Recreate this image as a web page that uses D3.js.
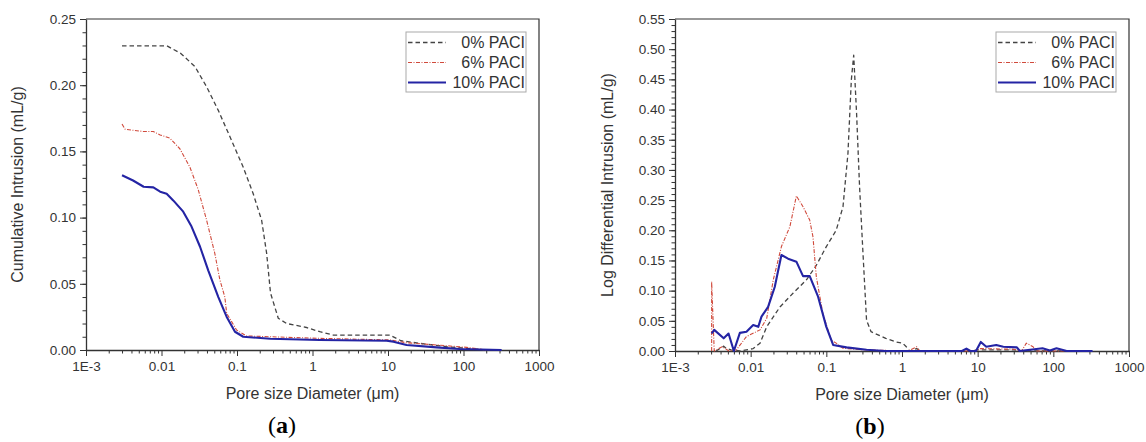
<!DOCTYPE html>
<html>
<head>
<meta charset="utf-8">
<script src="https://cdn.jsdelivr.net/npm/d3@7"></script>
<style>
  body { margin: 0; background: #fff; }
  svg { font-family: "Liberation Sans", Arial, sans-serif; }
  .axis text { fill: #333; font-size: 13.5px; }
  .axis path, .axis line { stroke: #333; }
</style>
</head>
<body>
<svg id="chart" width="1146" height="442"></svg>
<script>
// ---- data (pore diameter in um, intrusion in mL/g) ----
const seriesNames = ["0% PACI", "6% PACI", "10% PACI"];
const decadeLabels = ["1E-3", "0.01", "0.1", "1", "10", "100", "1000"];

// (a) cumulative intrusion
const cum0 = [[0.003,0.2297],[0.0118,0.2297],[0.018,0.224],[0.0278,0.214],[0.0396,0.1988],[0.0565,0.181],
  [0.0807,0.161],[0.121,0.138],[0.164,0.118],[0.212,0.098],[0.247,0.073],[0.278,0.043],[0.352,0.024],
  [0.455,0.020],[0.83,0.017],[1.25,0.0138],[1.88,0.0113],[10.6,0.0113],[14.9,0.0070],[26.6,0.005],
  [60,0.0025],[110,0.0013],[200,0.0]];
const cum6 = [[0.003,0.1707],[0.0033,0.1667],[0.0058,0.165],[0.0078,0.165],[0.0096,0.1624],[0.0129,0.160],
  [0.0175,0.152],[0.0238,0.138],[0.0307,0.121],[0.0396,0.098],[0.0508,0.073],[0.0593,0.053],[0.069,0.040],
  [0.073,0.0277],[0.0986,0.0151],[0.134,0.0106],[1.25,0.0088],[10.6,0.0076],[17.6,0.0055],[44,0.0038],
  [110,0.002],[200,0.0]];
const cum10 = [[0.003,0.132],[0.0042,0.128],[0.0058,0.1233],[0.0078,0.1228],[0.0096,0.1196],[0.0117,0.118],
  [0.0143,0.113],[0.0194,0.1045],[0.025,0.0932],[0.0324,0.078],[0.0417,0.060],[0.0566,0.040],
  [0.0728,0.0252],[0.094,0.0138],[0.121,0.010],[0.275,0.0085],[1.25,0.0076],[9.6,0.007],[11.8,0.0063],
  [17.6,0.0038],[44,0.002],[89,0.0008],[320,0.0]];

// (b) log differential intrusion
const diff0 = [[0.0035,0.0],[0.0044,0.008],[0.0048,0.004],[0.0055,0.002],[0.0072,0.0],[0.0108,0.004],
  [0.0133,0.013],[0.0163,0.04],[0.0244,0.073],[0.0365,0.096],[0.0547,0.118],[0.0737,0.142],[0.100,0.173],
  [0.135,0.200],[0.166,0.239],[0.193,0.327],[0.214,0.449],[0.230,0.49],[0.251,0.394],[0.275,0.272],
  [0.305,0.162],[0.34,0.051],[0.39,0.032],[0.61,0.021],[0.84,0.015],[1.02,0.013],[1.14,0.007],
  [1.25,0.0],[1.56,0.004],[1.8,0.0],[8,0.0],[10,0.002],[30,0.002],[40,0.0],[200,0.0]];
const diff6 = [[0.00305,0.0],[0.00305,0.115],[0.0033,0.0],[0.0042,0.007],[0.0052,0.0],[0.0065,0.002],
  [0.0088,0.024],[0.0133,0.035],[0.0163,0.054],[0.0199,0.118],[0.0255,0.173],[0.033,0.206],[0.0402,0.257],
  [0.0492,0.239],[0.0603,0.217],[0.0666,0.189],[0.0737,0.123],[0.090,0.062],[0.116,0.018],[0.135,0.013],
  [0.166,0.0045],[0.3,0.002],[1.2,0.0],[1.56,0.007],[1.7,0.0],[9,0.0],[11,0.004],[30,0.003],[38,0.0],
  [44,0.013],[54,0.007],[60,0.0],[200,0.0]];
const diff10 = [[0.00305,0.029],[0.0033,0.035],[0.0044,0.021],[0.0051,0.029],[0.006,0.0],[0.0072,0.030],
  [0.0088,0.032],[0.0108,0.043],[0.0126,0.040],[0.0139,0.057],[0.017,0.073],[0.0208,0.106],[0.0255,0.159],
  [0.0312,0.153],[0.0402,0.148],[0.0492,0.124],[0.0603,0.124],[0.0778,0.090],[0.1,0.040],[0.123,0.010],
  [0.185,0.006],[0.34,0.002],[0.6,0.0],[6.2,0.0],[7.1,0.004],[8,0.0],[9.5,0.0],[11,0.015],[13,0.007],
  [17.6,0.010],[21.8,0.007],[33,0.006],[36,0.0],[72,0.0045],[90,0.001],[110,0.0045],[150,0.0],[330,0.0]];

const cumTicks = [0, 0.05, 0.10, 0.15, 0.20, 0.25];
const diffTicks = [0, 0.05, 0.10, 0.15, 0.20, 0.25, 0.30, 0.35, 0.40, 0.45, 0.50, 0.55];

const colors = ["#444444", "#d04a3c", "#2424a4"];
const dashes = ["4.5,3", "4,1.5,1,1.5", null];
const widths = [1.3, 1.1, 2.1];

let svg = d3.select("#chart");

function drawPanel(opt) {
    let g = svg.append("g").attr("transform", `translate(${opt.left}, ${opt.top})`);
    let w = opt.width, h = opt.height;

    let x = d3.scaleLog().domain([1e-3, 1e3]).range([0, w]);
    let y = d3.scaleLinear().domain([0, opt.ymax]).range([h, 0]);

    // frame (top + right)
    g.append("path")
        .attr("d", `M0,0H${w}V${h}`)
        .attr("fill", "none").attr("stroke", "#333").attr("stroke-width", 1.2);

    // minor ticks
    let minorX = [];
    for (let e = -3; e < 3; e++) {
        for (let m = 2; m <= 9; m++) minorX.push(m * Math.pow(10, e));
    }
    g.append("g").attr("class", "axis").attr("transform", `translate(0, ${h})`)
        .call(d3.axisBottom(x).tickValues(minorX).tickFormat("").tickSize(3.5).tickSizeOuter(0))
        .select(".domain").remove();
    let minorY = d3.range(0, opt.ymax + 1e-9, 0.01).map(v => +v.toFixed(2));
    g.append("g").attr("class", "axis")
        .call(d3.axisLeft(y).tickValues(minorY).tickFormat("").tickSize(3.5).tickSizeOuter(0))
        .select(".domain").remove();

    // major axes
    let xAxis = g.append("g").attr("class", "axis").attr("transform", `translate(0, ${h})`)
        .call(d3.axisBottom(x)
            .tickValues(decadeLabels.map(Number))
            .tickFormat((d, i) => decadeLabels[i])
            .tickSize(6).tickSizeOuter(0).tickPadding(5));
    let yAxis = g.append("g").attr("class", "axis")
        .call(d3.axisLeft(y).tickValues(opt.ticks).tickFormat(d3.format(".2f"))
            .tickSize(6).tickSizeOuter(0).tickPadding(4));
    xAxis.select(".domain").attr("stroke-width", 1.3);
    yAxis.select(".domain").attr("stroke-width", 1.3);

    // curves
    let line = d3.line()
        .x((d) => x(d[0]))
        .y((d) => y(d[1]));
    opt.series.forEach((s, i) => {
        g.append("path")
            .datum(s)
            .attr("fill", "none")
            .attr("stroke", colors[i])
            .attr("stroke-width", widths[i])
            .attr("stroke-dasharray", dashes[i])
            .attr("stroke-linejoin", "round")
            .attr("d", line);
    });

    // axis titles
    g.append("text")
        .attr("x", w / 2).attr("y", h + 49)
        .attr("text-anchor", "middle")
        .attr("fill", "#333").style("font-size", "16px")
        .text("Pore size Diameter (\u03bcm)");
    g.append("text")
        .attr("transform", `translate(${opt.ytitleX}, ${h / 2}) rotate(-90)`)
        .attr("text-anchor", "middle")
        .attr("fill", "#333").style("font-size", "16px")
        .text(opt.ytitle);

    // panel letter
    let letter = g.append("text")
        .attr("x", opt.letterX).attr("y", h + 83)
        .attr("text-anchor", "middle")
        .style("font-family", "'Liberation Serif', 'Times New Roman', serif")
        .style("font-size", "24px").attr("fill", "#000");
    letter.append("tspan").text("(");
    letter.append("tspan").style("font-weight", "bold").text(opt.letter);
    letter.append("tspan").text(")");

    // legend
    let lg = g.append("g").attr("transform", `translate(${w - 133}, 13)`);
    lg.append("rect")
        .attr("width", 120).attr("height", 60)
        .attr("fill", "#fff").attr("stroke", "#aaa").attr("stroke-width", 1);
    seriesNames.forEach((name, i) => {
        let cy = 10.5 + i * 20;
        lg.append("line")
            .attr("x1", 2).attr("x2", 40).attr("y1", cy).attr("y2", cy)
            .attr("stroke", colors[i])
            .attr("stroke-width", widths[i])
            .attr("stroke-dasharray", dashes[i]);
        lg.append("text")
            .attr("x", 119).attr("y", cy + 5.5)
            .attr("text-anchor", "end")
            .attr("fill", "#333").style("font-size", "16px")
            .text(name);
    });
}

drawPanel({
    left: 86, top: 19, width: 453, height: 331, ymax: 0.25, ticks: cumTicks,
    series: [cum0, cum6, cum10],
    ytitle: "Cumulative Intrusion (mL/g)", ytitleX: -63,
    letter: "a", letterX: 196
});
drawPanel({
    left: 675, top: 19, width: 454, height: 332, ymax: 0.55, ticks: diffTicks,
    series: [diff0, diff6, diff10],
    ytitle: "Log Differential Intrusion (mL/g)", ytitleX: -62,
    letter: "b", letterX: 195
});
</script>
</body>
</html>
